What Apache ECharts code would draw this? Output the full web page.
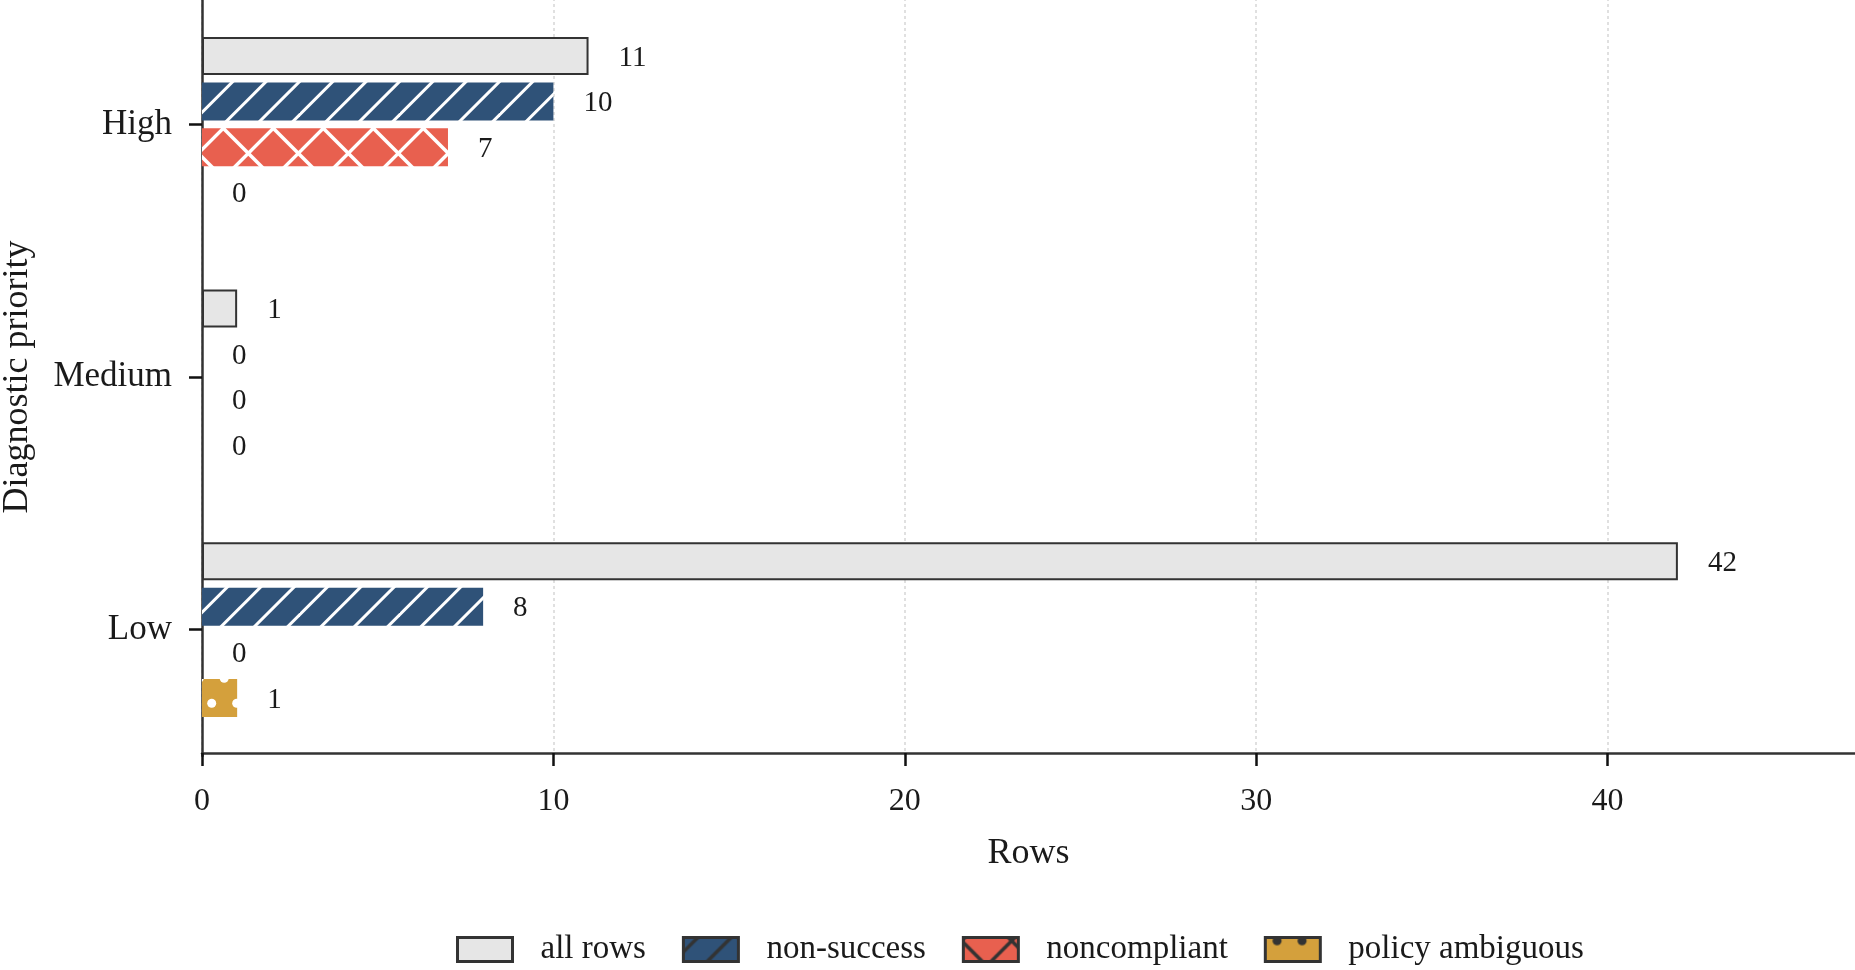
<!DOCTYPE html>
<html><head><meta charset="utf-8">
<script src="https://cdn.jsdelivr.net/npm/echarts@6/dist/echarts.min.js"></script>
<style>html,body{margin:0;padding:0;background:#fff}#c{width:1855px;height:970px}</style>
</head><body><div id="c"></div>
<script>
// ---- data ----
const categories = ['High', 'Medium', 'Low'];
const seriesNames = ['all rows', 'non-success', 'noncompliant', 'policy ambiguous'];
const allRows = [11, 1, 42];
const nonSuccess = [10, 0, 8];
const noncompliant = [7, 0, 0];
const policyAmbiguous = [0, 0, 1];
const xTicks = [0, 10, 20, 30, 40];
const xMax = 47.04;

// ---- styles ----
const FONT = '"Liberation Serif", "DejaVu Serif", serif';
const TXT = '#1a1a1a';
const GRAY = '#e6e6e6', BLUE = '#2f5278', RED = '#e8604f', GOLD = '#d4a03c', EDGE = '#333333';

function tile(bg, draw) {
  const c = document.createElement('canvas');
  c.width = 100; c.height = 100;
  const ctx = c.getContext('2d');
  ctx.fillStyle = bg; ctx.fillRect(0, 0, 100, 100);
  draw(ctx);
  return c;
}
function lines(ctx, color, lw, spacing, phase, slash) {
  ctx.strokeStyle = color; ctx.lineWidth = lw; ctx.lineCap = 'butt';
  for (let C = phase - 400; C <= phase + 400; C += spacing) {
    ctx.beginPath();
    if (slash) { ctx.moveTo(C + 30, -30); ctx.lineTo(C - 130, 130); }
    else { ctx.moveTo(C - 30, -30); ctx.lineTo(C + 130, 130); }
    ctx.stroke();
  }
}
function dots(ctx, color, r) {
  ctx.fillStyle = color;
  const rows = [[3.3, 11.7], [53.3, 11.7], [28.3, 24.2], [78.3, 24.2]];
  for (const [y0, x0] of rows) {
    for (let dy = -100; dy <= 100; dy += 100) {
      for (let x = x0 - 100; x <= 200; x += 25) {
        ctx.beginPath(); ctx.arc(x, y0 + dy, r, 0, Math.PI * 2); ctx.fill();
      }
    }
  }
}
function pat(c) { return { image: c, repeat: 'repeat' }; }

const blueHatch = (col, lw) => tile(BLUE, ctx => lines(ctx, col, lw, 100 / 3, 14.4, true));
const redHatch = (col, lw) => tile(RED, ctx => { lines(ctx, col, lw, 50, 1.6, true); lines(ctx, col, lw, 50, 45, false); });
const goldDots = (col, r) => tile(GOLD, ctx => dots(ctx, col, r));

const chart = echarts.init(document.getElementById('c'), null, { renderer: 'canvas' });

const labelCfg = { show: true, position: 'right', distance: 30, offset: [0, 2], fontFamily: FONT, fontSize: 29, color: TXT };
const BW = 38;

const option = {
  animation: false,
  backgroundColor: '#ffffff',
  grid: { left: 202, right: 0, top: -2, height: 758, containLabel: false, outerBoundsMode: 'none' },
  xAxis: {
    type: 'value', min: 0, max: xMax, interval: 10, offset: -3,
    name: 'Rows', nameLocation: 'middle', nameGap: 83,
    nameTextStyle: { fontFamily: FONT, fontSize: 36, color: TXT },
    axisLine: { show: true, onZero: false, lineStyle: { color: EDGE, width: 2.5 } },
    axisTick: { show: true, length: 13, customValues: xTicks, lineStyle: { color: '#111', width: 2.5 } },
    axisLabel: { customValues: xTicks, margin: 33, fontFamily: FONT, fontSize: 32, color: TXT },
    splitLine: { show: true, lineStyle: { color: '#d6d6d6', width: 1.5, type: [3, 3] } }
  },
  yAxis: {
    type: 'category', data: categories, inverse: true,
    name: 'Diagnostic priority', nameLocation: 'middle', nameGap: 166,
    nameTextStyle: { fontFamily: FONT, fontSize: 36, color: TXT },
    axisLine: { show: true, lineStyle: { color: EDGE, width: 2.5 } },
    axisTick: { show: true, alignWithLabel: true, length: 13, lineStyle: { color: '#111', width: 2.5 } },
    axisLabel: { margin: 30, fontFamily: FONT, fontSize: 35, color: TXT },
    splitLine: { show: false }
  },
  legend: {
    left: 456, top: 933, padding: 0, itemGap: 36, itemWidth: 55, itemHeight: 24, icon: 'rect',
    textStyle: { fontFamily: FONT, fontSize: 33, color: TXT, padding: [0, 0, 0, 23] },
    data: [
      { name: seriesNames[0], itemStyle: { color: GRAY, borderColor: EDGE, borderWidth: 3 } },
      { name: seriesNames[1], itemStyle: { color: pat(blueHatch(EDGE, 3.5)), borderColor: EDGE, borderWidth: 3 } },
      { name: seriesNames[2], itemStyle: { color: pat(redHatch(EDGE, 3.5)), borderColor: EDGE, borderWidth: 3 } },
      { name: seriesNames[3], itemStyle: { color: pat(goldDots(EDGE, 4.5)), borderColor: EDGE, borderWidth: 3 } }
    ]
  },
  series: [
    { name: seriesNames[0], type: 'bar', data: allRows, barWidth: BW, barGap: '20%',
      itemStyle: { color: GRAY, borderColor: EDGE, borderWidth: 2, borderRadius: 0 }, label: labelCfg },
    { name: seriesNames[1], type: 'bar', data: nonSuccess, barWidth: BW, barGap: '20%',
      itemStyle: { color: pat(blueHatch('#ffffff', 3)), borderRadius: 0 }, label: labelCfg },
    { name: seriesNames[2], type: 'bar', data: noncompliant, barWidth: BW, barGap: '20%',
      itemStyle: { color: pat(redHatch('#ffffff', 3.5)), borderRadius: 0 }, label: labelCfg },
    { name: seriesNames[3], type: 'bar', data: policyAmbiguous, barWidth: BW, barGap: '20%',
      itemStyle: { color: pat(goldDots('#ffffff', 4.5)), borderRadius: 0 }, label: labelCfg }
  ]
};
chart.setOption(option);
</script>
</body></html>
